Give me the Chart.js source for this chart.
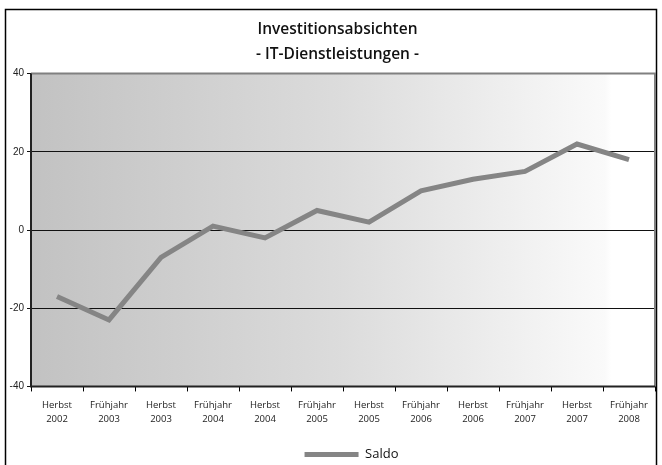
<!DOCTYPE html>
<html>
<head>
<meta charset="utf-8">
<script src="https://cdn.jsdelivr.net/npm/chart.js@4"></script>
<style>
  html, body { margin: 0; padding: 0; background: #fff; }
  #wrap { position: relative; width: 662px; height: 465px; }
</style>
</head>
<body>
<div id="wrap"><canvas id="chart" width="662" height="465"></canvas></div>
<script>
// chart data
const periods = ['Herbst', 'Frühjahr', 'Herbst', 'Frühjahr', 'Herbst', 'Frühjahr',
                 'Herbst', 'Frühjahr', 'Herbst', 'Frühjahr', 'Herbst', 'Frühjahr'];
const years = ['2002', '2003', '2003', '2004', '2004', '2005',
               '2005', '2006', '2006', '2007', '2007', '2008'];
const saldo = [-17, -23, -7, 1, -2, 5, 2, 10, 13, 15, 22, 18];
const titleLines = ['Investitionsabsichten', '- IT-Dienstleistungen -'];

const labels = periods.map((p, i) => [p, years[i]]);

// outer frame + plot background gradient + plot border
const framePlugin = {
    id: 'frame',
    afterLayout(chart) {
        // the original has title and legend sitting a bit right of centre
        const t = chart.titleBlock, l = chart.legend;
        if (t) { t.left += 10; t.right += 10; }
        if (l) { l.left += 24; l.right += 24; l.top += 6; l.bottom += 6; }
    },
    beforeDraw(chart) {
        const ctx = chart.ctx;
        const a = chart.chartArea;
        ctx.save();
        ctx.fillStyle = '#fff';
        ctx.fillRect(0, 0, chart.width, chart.height);
        ctx.strokeStyle = '#000';
        ctx.lineWidth = 1.5;
        ctx.strokeRect(5.5, 9.5, 651, 470);
        const grad = ctx.createLinearGradient(a.left, 0, a.right, 0);
        grad.addColorStop(0, '#c2c2c2');
        grad.addColorStop(0.5, '#dcdcdc');
        grad.addColorStop(0.92, '#fafafa');
        grad.addColorStop(0.93, '#ffffff');
        grad.addColorStop(1, '#ffffff');
        ctx.fillStyle = grad;
        ctx.fillRect(a.left, a.top, a.right - a.left, a.bottom - a.top);
        ctx.restore();
    },
    afterDatasetsDraw(chart) {
        const ctx = chart.ctx;
        const a = chart.chartArea;
        ctx.save();
        ctx.strokeStyle = '#808080';
        ctx.lineWidth = 2;
        ctx.beginPath();
        ctx.moveTo(a.left, a.top);
        ctx.lineTo(a.right, a.top);
        ctx.lineTo(a.right, a.bottom);
        ctx.stroke();
        ctx.strokeStyle = '#222';
        ctx.lineWidth = 2;
        ctx.beginPath();
        ctx.moveTo(a.left, a.top);
        ctx.lineTo(a.left, a.bottom);
        ctx.lineTo(a.right, a.bottom);
        ctx.stroke();
        ctx.restore();
    }
};

new Chart(document.getElementById('chart'), {
    type: 'line',
    data: {
        labels: labels,
        datasets: [{
            label: 'Saldo',
            data: saldo,
            borderColor: '#858585',
            backgroundColor: '#858585',
            borderWidth: 5,
            pointRadius: 0,
            tension: 0,
            fill: false
        }]
    },
    options: {
        responsive: false,
        animation: false,
        layout: { padding: { left: 0, right: 7, top: 17, bottom: 0 } },
        plugins: {
            title: {
                display: true,
                text: titleLines,
                color: '#111',
                font: { family: 'Open Sans', size: 15.5, weight: '600', lineHeight: 1.6 },
                padding: { top: 0, bottom: 7 }
            },
            legend: {
                position: 'bottom',
                labels: {
                    usePointStyle: true,
                    pointStyle: 'line',
                    pointStyleWidth: 54,
                    boxWidth: 54,
                    color: '#111',
                    font: { family: 'Open Sans', size: 13 },
                    padding: 9
                }
            },
            tooltip: { enabled: false }
        },
        scales: {
            x: {
                offset: true,
                grid: {
                    display: true,
                    offset: true,
                    drawOnChartArea: false,
                    drawTicks: true,
                    tickLength: 5,
                    color: '#000'
                },
                border: { display: false },
                ticks: {
                    color: '#222',
                    font: { family: 'Open Sans', size: 9.5, lineHeight: 1.45 },
                    maxRotation: 0,
                    autoSkip: false,
                    padding: 7
                }
            },
            y: {
                min: -40,
                max: 40,
                afterFit(scale) { scale.width = 31; },
                grid: {
                    color: '#111',
                    lineWidth: 1,
                    drawTicks: true,
                    tickLength: 4
                },
                border: { display: false },
                ticks: {
                    stepSize: 20,
                    color: '#222',
                    font: { family: 'Liberation Sans', size: 10 },
                    padding: 3
                }
            }
        }
    },
    plugins: [framePlugin]
});
</script>
</body>
</html>
